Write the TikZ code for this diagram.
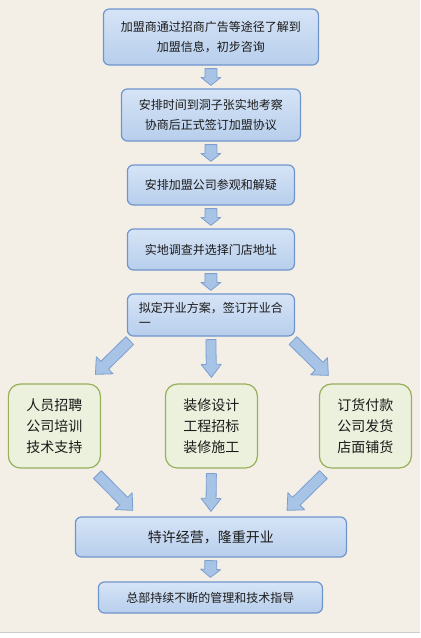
\documentclass[tikz,border=0pt]{standalone}
\usepackage{fontspec}
\newfontfamily\cjk{Noto Sans CJK SC}
\usetikzlibrary{calc}
\definecolor{bgc}{HTML}{F3EFE7}
\definecolor{bluetop}{HTML}{D6E4F6}
\definecolor{bluebot}{HTML}{B7CEEC}
\definecolor{blueedge}{HTML}{6F95CD}
\definecolor{greenfill}{HTML}{EBF1DC}
\definecolor{greenedge}{HTML}{98B05A}
\definecolor{arrfill}{HTML}{A7C4E6}
\definecolor{arredge}{HTML}{7C9FCF}
\definecolor{txt}{HTML}{1A1A1A}
\tikzset{
  bluebox/.style={draw=blueedge, line width=1.2pt, rounded corners=6pt,
    top color=bluetop, bottom color=bluebot, text=txt, inner sep=0pt,
    align=center, font=\cjk\fontsize{12}{20}\selectfont},
  greenbox/.style={draw=greenedge, line width=1.2pt, rounded corners=12pt,
    fill=greenfill, text=txt, inner sep=0pt, align=center,
    minimum width=92pt, minimum height=84pt,
    font=\cjk\fontsize{14}{21}\selectfont},
  barr/.style={draw=arredge, line width=0.8pt, fill=arrfill, line join=round}
}
% block arrow: start, end, shaft half width, head half width, head length
\newcommand\blockarr[5]{%
  \draw[barr] let \p1=(#1), \p2=(#2),
    \n1={atan2(\y2-\y1,\x2-\x1)}, \n2={veclen(\x2-\x1,\y2-\y1)} in
    [shift={(\p1)}, rotate=\n1]
    (0,-#3) -- (\n2-#5,-#3) -- (\n2-#5,-#4) -- (\n2,0) -- (\n2-#5,#4)
    -- (\n2-#5,#3) -- (0,#3) -- cycle;}
\begin{document}
\begin{tikzpicture}[x=1pt,y=-1pt]
\fill[bgc] (0,0) rectangle (420,632);
\fill[white] (0,632) rectangle (420,638);
\draw[gray!40, line width=0.8pt] (0,632) -- (420,632);
\useasboundingbox (0,0) rectangle (420,638);

\node[bluebox, minimum width=215pt, minimum height=56pt] (b1) at (210.5,37)
  {加盟商通过招商广告等途径了解到\\加盟信息，初步咨询};
\node[bluebox, minimum width=179pt, minimum height=52pt] (b2) at (210.5,115)
  {安排时间到洞子张实地考察\\协商后正式签订加盟协议};
\node[bluebox, minimum width=167pt, minimum height=40pt] (b3) at (210.5,185)
  {安排加盟公司参观和解疑};
\node[bluebox, minimum width=167pt, minimum height=41pt] (b4) at (210.5,249.5)
  {实地调查并选择门店地址};
\node[bluebox, minimum width=167pt, minimum height=42pt, text width=144pt,
  align=left, font=\cjk\fontsize{12}{15}\selectfont] (b5) at (210.5,315)
  {拟定开业方案，签订开业合\\一};
\node[greenbox] (g1) at (54,426) {人员招聘\\公司培训\\技术支持};
\node[greenbox] (g2) at (211,426) {装修设计\\工程招标\\装修施工};
\node[greenbox] (g3) at (365,426) {订货付款\\公司发货\\店面铺货};
\node[bluebox, minimum width=271pt, minimum height=40pt,
  font=\cjk\fontsize{14}{20}\selectfont] (b6) at (210.5,537)
  {特许经营，隆重开业};
\node[bluebox, minimum width=224pt, minimum height=31pt] (b7) at (210,597.5)
  {总部持续不断的管理和技术指导};

\coordinate (a1s) at ($(b1.south)+(0,3)$);
\coordinate (a1e) at ($(b2.north)+(0,-3)$);
\coordinate (a2s) at ($(b2.south)+(0,3)$);
\coordinate (a2e) at ($(b3.north)+(0,-3)$);
\coordinate (a3s) at ($(b3.south)+(0,3)$);
\coordinate (a3e) at ($(b4.north)+(0,-3)$);
\coordinate (a4s) at ($(b4.south)+(0,3)$);
\coordinate (a4e) at ($(b5.north)+(0,-3)$);
\coordinate (d1s) at ($(b5.south west)+(3,4)$);
\coordinate (d1e) at ($(g1.north)+(41,-9)$);
\coordinate (d2s) at ($(b5.south)+(0,3)$);
\coordinate (d2e) at ($(g2.north)+(0,-6)$);
\coordinate (d3s) at ($(b5.south east)+(-2,4)$);
\coordinate (d3e) at ($(g3.north)+(-37,-8)$);
\coordinate (u1s) at ($(g1.south)+(43,6)$);
\coordinate (u1e) at ($(b6.north west)+(58,-6)$);
\coordinate (u2s) at ($(g2.south)+(0,5)$);
\coordinate (u2e) at ($(b6.north)+(0,-5)$);
\coordinate (u3s) at ($(g3.south)+(-42,6)$);
\coordinate (u3e) at ($(b6.north east)+(-60,-6)$);
\coordinate (a5s) at ($(b6.south)+(0,3)$);
\coordinate (a5e) at ($(b7.north)+(0,-4)$);

\blockarr{a1s}{a1e}{6}{10}{8}
\blockarr{a2s}{a2e}{6}{10}{8}
\blockarr{a3s}{a3e}{6}{10}{8}
\blockarr{a4s}{a4e}{6}{10}{8}
\blockarr{d1s}{d1e}{5.5}{12}{13}
\blockarr{d2s}{d2e}{5}{10}{13}
\blockarr{d3s}{d3e}{5.5}{12}{13}
\blockarr{u1s}{u1e}{5.5}{12}{13}
\blockarr{u2s}{u2e}{5}{10}{13}
\blockarr{u3s}{u3e}{5.5}{12}{13}
\blockarr{a5s}{a5e}{6}{10}{8}
\end{tikzpicture}
\end{document}
